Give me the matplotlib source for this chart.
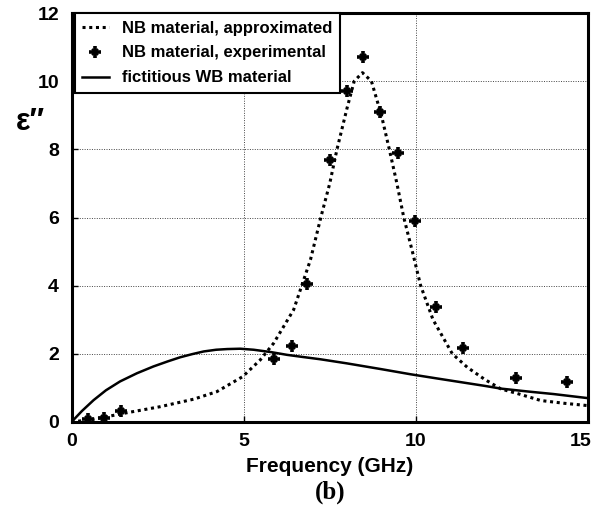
import matplotlib
matplotlib.use("Agg")
import matplotlib.pyplot as plt
import matplotlib.transforms as mtransforms
from matplotlib.lines import Line2D

plt.rcParams['font.family'] = ['Liberation Sans', 'DejaVu Sans']
plt.rcParams['font.weight'] = 'bold'

# NB material, approximated (dotted curve)
approx_x = [0, 0.64, 1.6, 2.58, 3.55, 4.22, 4.97, 5.48, 5.87, 6.45, 6.94,
            7.24, 7.5, 7.71, 8.0, 8.21, 8.45, 8.71, 9.0, 9.23, 9.45, 9.65, 9.9,
            10.14, 10.5, 11.06, 11.5, 12, 12.47, 13, 13.63, 14.3, 15]
approx_y = [0, 0.08, 0.27, 0.45, 0.67, 0.89, 1.33, 1.82, 2.31, 3.29, 4.76,
            6.0, 7.0, 8.0, 9.2, 10.0, 10.25, 10.0, 9.0, 8.0,
            7.0, 6.0, 5.0, 4.0, 3.0, 2.0, 1.6, 1.25, 0.97, 0.82, 0.63, 0.55, 0.48]

# NB material, experimental (markers)
exp_x = [0.49, 0.93, 1.44, 5.88, 6.39, 6.85, 7.5, 8.0, 8.46, 8.97, 9.47, 9.99,
         10.58, 11.38, 12.9, 14.39]
exp_y = [0.08, 0.12, 0.32, 1.86, 2.24, 4.05, 7.69, 9.7, 10.71, 9.09, 7.89, 5.89,
         3.36, 2.17, 1.3, 1.17]

# fictitious WB material (solid)
wb_x = [0, 0.3, 0.64, 1.0, 1.41, 1.9, 2.38, 2.8, 3.16, 3.5, 3.84, 4.2, 4.52,
        4.9, 5.29, 5.8, 6.26, 6.7, 7.23, 8.0, 9.0, 9.85, 10.6, 11.3, 12.0,
        12.47, 13.3, 14.0, 15]
wb_y = [0, 0.32, 0.64, 0.93, 1.19, 1.43, 1.63, 1.78, 1.90, 1.99, 2.07, 2.12,
        2.14, 2.15, 2.12, 2.05, 1.97, 1.91, 1.84, 1.72, 1.55, 1.40, 1.28, 1.17,
        1.06, 0.98, 0.89, 0.82, 0.7]

xticks = [0, 5, 10, 15]
yticks = [0, 2, 4, 6, 8, 10, 12]

fig = plt.figure(figsize=(5.95, 5.25), dpi=100)
ax = fig.add_axes([71.5 / 595, 1 - 422 / 525, (588 - 71.5) / 595, (422 - 13) / 525])

ax.plot(approx_x, approx_y, color='black', lw=2.2, linestyle=(0, (1, 1.2)))
ax.plot(exp_x, exp_y, linestyle='none', marker='+', ms=9, mew=2.6, color='black')
ax.plot(exp_x, exp_y, linestyle='none', marker='x', ms=5, mew=1.6, color='black')
ax.plot(wb_x, wb_y, color='black', lw=1.8)

ax.set_xlim(0, 15)
ax.set_ylim(0, 12)
ax.set_xticks(xticks)
ax.set_yticks(yticks)
ax.tick_params(direction='in', length=4, width=1, labelsize=14)
ax.tick_params(axis='y', pad=9)
ax.tick_params(axis='x', pad=8)
for lab in ax.get_xticklabels() + ax.get_yticklabels():
    lab.set_fontweight('bold')
last = ax.get_xticklabels()[-1]
last.set_transform(last.get_transform() +
                   mtransforms.ScaledTranslation(-7 / 100, 0, fig.dpi_scale_trans))
for s in ax.spines.values():
    s.set_linewidth(2.2)
ax.grid(True, color='#444444', linestyle=(0, (1, 1.5)), lw=0.7)

ax.set_xlabel('Frequency (GHz)', fontsize=15, fontweight='bold', labelpad=5)
fig.text(30 / 595, 1 - 122 / 525, 'ε″', fontsize=22, fontweight='bold',
         ha='center', va='center', family=['Liberation Sans', 'DejaVu Sans'])
fig.text(0.5 * (71.5 + 588) / 595, 1 - 492 / 525, '(b)', fontsize=18,
         fontweight='bold', ha='center', va='center', family=['Liberation Serif'])

h1 = Line2D([], [], color='black', lw=2.2, linestyle=(0, (1, 1.2)))
hp = Line2D([], [], linestyle='none', marker='+', ms=9, mew=2.6, color='black')
hx = Line2D([], [], linestyle='none', marker='x', ms=5, mew=1.6, color='black')
h3 = Line2D([], [], color='black', lw=1.8)
leg = ax.legend([h1, (hp, hx), h3],
                ['NB material, approximated', 'NB material, experimental',
                 'fictitious WB material'],
                loc='upper left', bbox_to_anchor=(0.006, 1.0), fontsize=12,
                frameon=True, fancybox=False, edgecolor='black', framealpha=1,
                handlelength=1.6, handletextpad=0.8, borderpad=0.45,
                labelspacing=0.6, borderaxespad=0)
leg.get_frame().set_linewidth(1.5)
for t in leg.get_texts():
    t.set_fontweight('bold')

fig.savefig('out.png', dpi=100)
